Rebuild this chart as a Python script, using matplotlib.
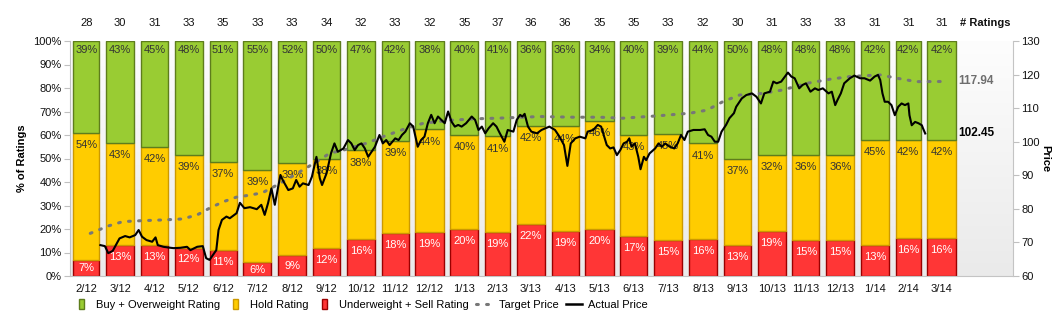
import matplotlib
matplotlib.use('Agg')
import matplotlib.pyplot as plt
import matplotlib.dates as mdates
import matplotlib.patches as mpatches
import matplotlib.transforms as mtrans
from matplotlib.colors import LinearSegmentedColormap
from matplotlib.legend_handler import HandlerPatch
from matplotlib.lines import Line2D
import numpy as np
import pandas as pd

plt.rcParams['font.family'] = ['Liberation Sans', 'DejaVu Sans']

# ---- data ----
months = ['2/12', '3/12', '4/12', '5/12', '6/12', '7/12', '8/12', '9/12', '10/12',
          '11/12', '12/12', '1/13', '2/13', '3/13', '4/13', '5/13', '6/13', '7/13',
          '8/13', '9/13', '10/13', '11/13', '12/13', '1/14', '2/14', '3/14']
n_ratings = [28, 30, 31, 33, 35, 33, 33, 34, 32, 33, 32, 35, 37, 36, 36, 35, 35, 33,
             32, 30, 31, 33, 33, 31, 31, 31]
buy_pct = [39, 43, 45, 48, 51, 55, 52, 50, 47, 42, 38, 40, 41, 36, 36, 34, 40, 39,
           44, 50, 48, 48, 48, 42, 42, 42]
hold_pct = [54, 43, 42, 39, 37, 39, 39, 38, 38, 39, 44, 40, 41, 42, 44, 46, 43, 45,
            41, 37, 32, 36, 36, 45, 42, 42]
sell_pct = [7, 13, 13, 12, 11, 6, 9, 12, 16, 18, 19, 20, 19, 22, 19, 20, 17, 15,
            16, 13, 19, 15, 15, 13, 16, 16]

# (days since 1 Feb 2012, price)
target_points = [(18, 72.7), (34, 74.9), (47, 76.2), (65, 76.5), (83, 76.7), (100, 77.0),
                 (113, 78.2), (124, 80.2), (136, 82.1), (148, 83.5), (160, 84.1), (171, 84.8),
                 (184, 87.1), (195, 89.2), (207, 91.6), (219, 94.0), (231, 96.6), (243, 97.5),
                 (264, 99.6), (278, 101.5), (299, 104.0), (314, 105.5), (335, 106.3),
                 (358, 106.8), (388, 107.1), (418, 107.5), (447, 107.3), (471, 107.3),
                 (491, 107.0), (522, 107.7), (551, 108.5), (566, 109.4), (580, 111.9),
                 (595, 113.9), (616, 114.4), (633, 115.4), (655, 117.4), (675, 118.6),
                 (693, 119.4), (720, 119.9), (735, 118.9), (752, 117.9), (776, 117.94)]

price_points = [(27, 69.2), (31, 68.9), (34, 66.8), (38, 67.5), (44, 71.2), (49, 71.9), (53, 71.5),
                (58, 72.2), (61, 73.7), (64, 71.7), (68, 70.7), (73, 70.2), (76, 71.5), (78, 69.2),
                (83, 68.7), (87, 68.5), (92, 68.3), (98, 68.4), (104, 68.7), (107, 67.7), (113, 68.7),
                (118, 68.9), (121, 65.3), (124, 64.8), (130, 67.7), (132, 73.7), (135, 76.7),
                (139, 77.7), (142, 77.2), (148, 78.7), (151, 81.8), (155, 80.2), (160, 80.5),
                (166, 79.9), (170, 81.2), (173, 78.2), (176, 81.7), (179, 86.1), (182, 81.2),
                (187, 90.1), (189, 88.6), (194, 85.6), (198, 86.1), (201, 88.6), (204, 86.6),
                (207, 87.6), (212, 87.1), (215, 89.6), (219, 95.5), (222, 89.1), (224, 87.1),
                (228, 90.6), (232, 96.6), (235, 99.5), (238, 97.0), (243, 98.0), (247, 100.5),
                (250, 99.5), (253, 97.5), (256, 99.0), (259, 99.5), (262, 98.0), (265, 95.5),
                (268, 97.0), (271, 98.5), (275, 102.0), (278, 99.5), (281, 100.5), (284, 99.0),
                (289, 101.0), (292, 100.5), (295, 102.0), (298, 103.0), (302, 105.5), (305, 104.5),
                (309, 98.5), (312, 100.5), (315, 101.5), (318, 105.5), (321, 108.0), (324, 105.5),
                (327, 107.5), (330, 106.5), (333, 105.5), (336, 109.0), (339, 106.0), (342, 104.5),
                (345, 105.0), (348, 104.5), (352, 105.5), (357, 107.5), (360, 106.5), (363, 103.5),
                (366, 104.5), (369, 102.5), (372, 104.0), (376, 105.5), (379, 104.5), (382, 102.5),
                (386, 100.0), (389, 103.5), (394, 103.0), (397, 106.5), (400, 108.0), (402, 107.5),
                (404, 108.3), (407, 104.5), (410, 103.0), (415, 102.5), (419, 103.5), (426, 104.5),
                (431, 103.5), (435, 101.5), (439, 99.0), (442, 92.8), (445, 99.5), (449, 101.0),
                (453, 101.5), (458, 101.0), (460, 103.0), (465, 103.5), (469, 105.0), (472, 104.5),
                (477, 99.0), (480, 98.0), (483, 98.3), (486, 96.0), (489, 97.5), (492, 99.5),
                (495, 100.0), (497, 101.0), (499, 98.5), (502, 99.5), (505, 95.5), (507, 91.8),
                (510, 95.5), (512, 94.5), (515, 96.5), (520, 98.0), (523, 99.5), (526, 98.5),
                (529, 99.5), (533, 98.5), (537, 98.0), (540, 99.5), (543, 102.0), (546, 100.5),
                (549, 103.0), (554, 103.5), (560, 103.5), (564, 103.7), (567, 102.0), (570, 101.5),
                (573, 100.0), (576, 100.0), (579, 103.0), (583, 105.0), (586, 107.0), (590, 108.5),
                (592, 110.4), (597, 112.9), (601, 113.9), (606, 114.4), (610, 113.4), (614, 111.4),
                (617, 114.4), (622, 114.9), (625, 117.9), (628, 117.4), (632, 117.9), (638, 120.6),
                (641, 119.4), (644, 118.9), (648, 115.9), (651, 116.9), (654, 117.4), (658, 114.9),
                (662, 115.9), (665, 115.4), (669, 115.9), (674, 114.4), (677, 114.9), (680, 110.9),
                (682, 112.4), (685, 114.4), (688, 117.4), (693, 118.9), (697, 119.7), (702, 118.9),
                (706, 118.9), (711, 118.2), (715, 119.4), (718, 119.9), (720, 118.4), (722, 114.4),
                (724, 111.9), (727, 111.9), (730, 110.9), (733, 107.9), (736, 110.4), (739, 111.4),
                (742, 110.9), (745, 111.4), (746, 107.9), (748, 104.9), (751, 105.9), (754, 105.5),
                (757, 104.9), (758, 104.0), (760, 102.45)]

GREEN, GREEN_EDGE = '#99cc33', '#5e7d1c'
YELLOW, YELLOW_EDGE = '#ffcc00', '#cc9900'
RED, RED_EDGE = '#ff3636', '#9a0000'

# ---- derived positions ----
t0 = pd.Timestamp('2012-02-01')
mstart = pd.date_range(t0, periods=len(months), freq='MS')
left = mdates.date2num(mstart) + 3
width = np.asarray(mstart.days_in_month) - 6
centers = left + width / 2

buy = np.array(buy_pct, float)
hold = np.array(hold_pct, float)
sell = np.array(sell_pct, float)
tot = buy + hold + sell
buy_h, hold_h, sell_h = buy / tot * 100, hold / tot * 100, sell / tot * 100

tday, tval = zip(*target_points)
pday, pval = zip(*price_points)
tx = mdates.date2num(t0) + np.array(tday)
px = mdates.date2num(t0) + np.array(pday)

xmin = mdates.date2num(t0)
xmax = mdates.date2num(pd.Timestamp('2014-05-19'))

fig = plt.figure(figsize=(10.59, 3.25), dpi=100)
ax = fig.add_axes([70 / 1059, 49 / 325, 943 / 1059, 235 / 325])

# background gradient
cmap = LinearSegmentedColormap.from_list('bg', ['#eaeaea', '#fdfdfd'])
grad = np.linspace(0, 1, 256).reshape(-1, 1)
ax.imshow(grad, extent=[xmin, xmax, 0, 100], aspect='auto', cmap=cmap,
          origin='lower', zorder=0)

ax.bar(left, sell_h, width=width, align='edge', color=RED, edgecolor=RED_EDGE,
       linewidth=1, zorder=2)
ax.bar(left, hold_h, width=width, bottom=sell_h, align='edge', color=YELLOW,
       edgecolor=YELLOW_EDGE, linewidth=1, zorder=2)
ax.bar(left, buy_h, width=width, bottom=sell_h + hold_h, align='edge', color=GREEN,
       edgecolor=GREEN_EDGE, linewidth=1, zorder=2)

for i in range(len(months)):
    top_s = sell_h[i]
    top_h = sell_h[i] + hold_h[i]
    ax.text(centers[i], top_s - min(5.0, sell_h[i] / 2 + 0.3), f'{sell_pct[i]}%',
            ha='center', va='center', fontsize=8, color='white', zorder=3)
    ax.text(centers[i], top_h - min(5.2, hold_h[i] / 2), f'{hold_pct[i]}%',
            ha='center', va='center', fontsize=8, color='#333333', zorder=3)
    ax.text(centers[i], 100 - 3.9, f'{buy_pct[i]}%',
            ha='center', va='center', fontsize=8, color='#333333', zorder=3)

top_tr = mtrans.blended_transform_factory(ax.transData, ax.transAxes)
for c, n in zip(centers, n_ratings):
    ax.text(c, 1.077, str(n), transform=top_tr, ha='center', va='center',
            fontsize=8, color='#111111')
ax.text(0.944, 1.077, '# Ratings', transform=ax.transAxes, ha='left', va='center',
        fontsize=8, fontweight='bold', color='#111111')

ax.set_xlim(xmin, xmax)
ax.set_ylim(0, 100)
ax.set_yticks(np.arange(0, 101, 10))
ax.set_yticklabels([f'{v}%' for v in range(0, 101, 10)])
ax.set_xticks(centers)
ax.set_xticklabels(months)
ax.tick_params(axis='x', length=0, pad=6, labelsize=8, labelcolor='#111111')
ax.tick_params(axis='y', length=4, color='#c0c0c0', labelsize=8, labelcolor='#111111', pad=2)
for s in ['top', 'right']:
    ax.spines[s].set_visible(False)
for s in ['left', 'bottom']:
    ax.spines[s].set_color('#c4c4c4')
ax.set_ylabel('% of Ratings', fontsize=8, fontweight='bold')
ax.yaxis.set_label_coords(-0.046, 0.5)

# price axis
ax2 = ax.twinx()
ax2.set_ylim(60, 130)
ax2.set_yticks(np.arange(60, 131, 10))
ax2.plot(tx, tval, color='#777777', lw=2.2, linestyle=(0, (0.6, 2.7)),
         dash_capstyle='round', zorder=4)
ax2.plot(px, pval, color='black', lw=1.5, zorder=5)
ax2.set_xlim(xmin, xmax)
ax2.tick_params(axis='y', length=4, color='#c0c0c0', labelsize=8, labelcolor='#111111', pad=2)
for s in ['top', 'left', 'bottom']:
    ax2.spines[s].set_visible(False)
ax2.spines['right'].set_color('#c4c4c4')
ax2.set_ylabel('Price', fontsize=8, fontweight='bold', rotation=270, va='center')
ax2.yaxis.set_label_coords(1.034, 0.5)

price_tr = mtrans.blended_transform_factory(ax2.transAxes, ax2.transData)
ax2.text(0.942, tval[-1], f'{tval[-1]:.2f}', transform=price_tr, ha='left', va='center',
         fontsize=8.5, fontweight='bold', color='#6e6e6e')
ax2.text(0.942, pval[-1], f'{pval[-1]:.2f}', transform=price_tr, ha='left', va='center',
         fontsize=8.5, fontweight='bold', color='black')


# legend
def small_box(legend, orig_handle, xdescent, ydescent, width, height, fontsize):
    return mpatches.Rectangle((-xdescent + width / 2 - 1.8, -ydescent - 0.6), 3.6, height + 1.2)


handles = [mpatches.Patch(facecolor=GREEN, edgecolor=GREEN_EDGE, lw=1),
           mpatches.Patch(facecolor=YELLOW, edgecolor=YELLOW_EDGE, lw=1),
           mpatches.Patch(facecolor=RED, edgecolor=RED_EDGE, lw=1),
           Line2D([], [], color='#777777', lw=2.2, linestyle=(0, (0.6, 2.7)),
                  dash_capstyle='round'),
           Line2D([], [], color='black', lw=1.8)]
labels = ['Buy + Overweight Rating', 'Hold Rating', 'Underweight + Sell Rating',
          'Target Price', 'Actual Price']
fig.legend(handles, labels, loc='center left', bbox_to_anchor=(74 / 1059, 1 - 305 / 325),
           ncol=5, frameon=False, fontsize=8, handlelength=1.4, handletextpad=0.6,
           columnspacing=0.7, borderpad=0, borderaxespad=0,
           handler_map={mpatches.Patch: HandlerPatch(patch_func=small_box)})

fig.savefig('out.png', dpi=100)
